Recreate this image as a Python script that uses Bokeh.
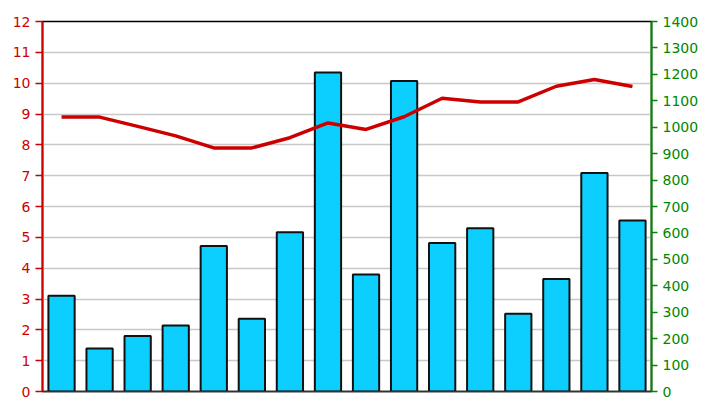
from bokeh.plotting import figure
from bokeh.models import Range1d, LinearAxis, FixedTicker, ColumnDataSource
from bokeh.embed import file_html
from bokeh.resources import INLINE

categories = [str(i) for i in range(1, 17)]
bar_values = [362, 163, 210, 250, 551, 275, 603, 1207, 443, 1175, 562, 618, 294, 426, 827, 647]
line_values = [8.9, 8.9, 8.6, 8.29, 7.9, 7.9, 8.23, 8.71, 8.5, 8.91, 9.51, 9.39, 9.39, 9.9, 10.12, 9.89]
left_ticks = list(range(0, 13))
right_ticks = list(range(0, 1401, 100))

src = ColumnDataSource(dict(cat=categories, bars=bar_values, line=line_values))

p = figure(x_range=categories, y_range=Range1d(0, 12), width=707, height=412,
           output_backend="svg", toolbar_location=None,
           min_border_left=42, min_border_right=56, min_border_top=21, min_border_bottom=21)
p.extra_y_ranges = {"right": Range1d(0, 1400)}

p.outline_line_color = "black"
p.outline_line_width = 1.5
p.background_fill_color = "white"
p.border_fill_color = "white"

p.xgrid.grid_line_color = None
p.ygrid.grid_line_color = "#c8c8c8"
p.ygrid.grid_line_width = 1.5
p.ygrid.ticker = FixedTicker(ticks=left_ticks)

p.vbar(x="cat", top="bars", width=0.69, source=src, y_range_name="right",
       fill_color="#0dcfff", line_color="#111111", line_width=2)
p.line(x="cat", y="line", source=src, line_color="#cc0000", line_width=3.5)

font = "DejaVu Sans"
ya = p.yaxis[0]
ya.ticker = FixedTicker(ticks=left_ticks)
ya.axis_line_color = "#cc0000"
ya.axis_line_width = 2
ya.major_tick_line_color = "#cc0000"
ya.major_tick_line_width = 1.5
ya.major_tick_out = 7
ya.major_tick_in = 0
ya.minor_tick_line_color = None
ya.major_label_text_color = "#cc0000"
ya.major_label_text_font = font
ya.major_label_text_font_size = "14px"
ya.major_label_standoff = 5

ra = LinearAxis(y_range_name="right", ticker=FixedTicker(ticks=right_ticks))
ra.axis_line_color = "#008800"
ra.axis_line_width = 2
ra.major_tick_line_color = "#008800"
ra.major_tick_line_width = 1.5
ra.major_tick_out = 6
ra.major_tick_in = 0
ra.minor_tick_line_color = None
ra.major_label_text_color = "#008800"
ra.major_label_text_font = font
ra.major_label_text_font_size = "14px"
ra.major_label_standoff = 5
p.add_layout(ra, "right")

xa = p.xaxis[0]
xa.axis_line_color = "#333333"
xa.axis_line_width = 1.5
xa.major_tick_line_color = None
xa.minor_tick_line_color = None
xa.major_label_text_font_size = "0px"
xa.major_label_text_color = None

open("out.html", "w").write(file_html(p, INLINE))
